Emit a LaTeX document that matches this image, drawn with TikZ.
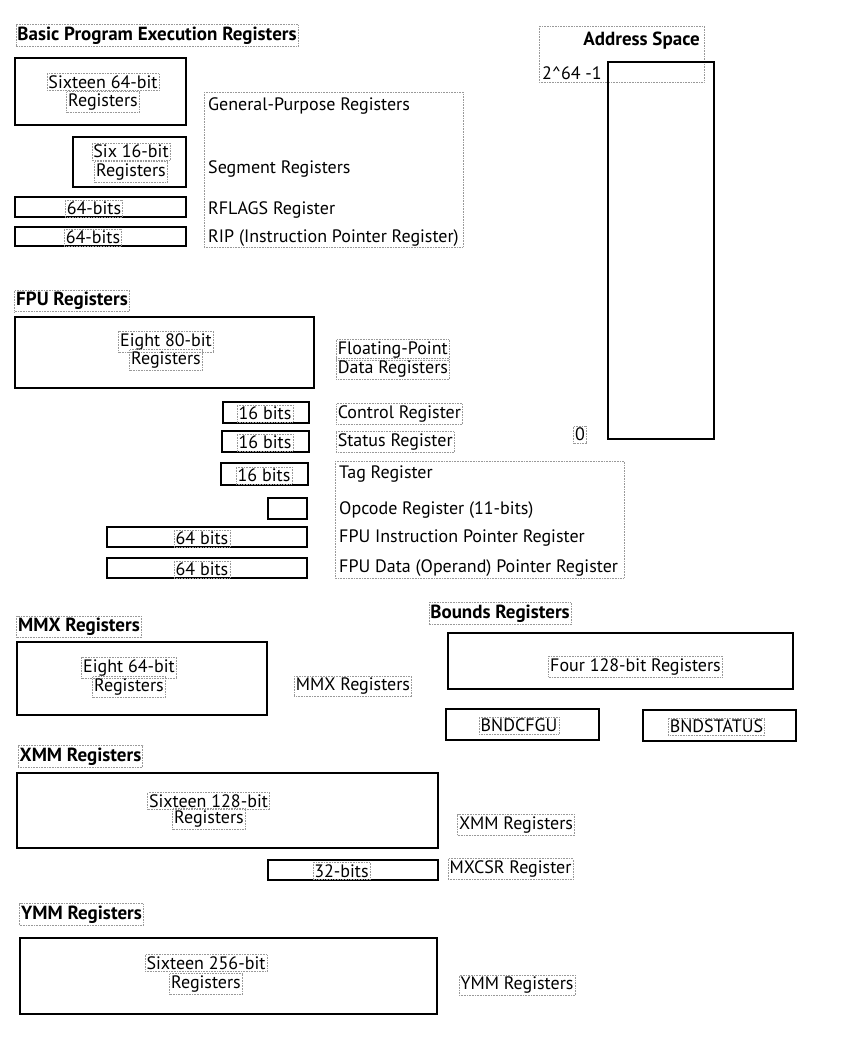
\documentclass[tikz,border=0pt]{standalone}
\usepackage{fontspec}
\setmainfont{PT Sans}
\begin{document}
\begin{tikzpicture}[x=1pt,y=-1pt,
  reg/.style={draw=black,line width=1.2pt},
  lbl/.style={draw=gray!80,densely dotted,line width=0.6pt,inner xsep=1.5pt,inner ysep=2pt,yshift=-1.5pt,font=\fontsize{18}{20}\selectfont},
  ttl/.style={lbl,font=\fontsize{19}{21}\selectfont\bfseries},
  txt/.style={inner sep=0pt,anchor=west,yshift=-1.5pt,font=\fontsize{18}{20}\selectfont},
  grp/.style={draw=gray!80,densely dotted,line width=0.6pt}]
\useasboundingbox (0,0) rectangle (842,1057);

% titles
\node[ttl] (t1) at (157,34) {Basic Program Execution Registers};
\node[ttl] (t2) at (72,299.5) {FPU Registers};
\node[ttl] (t3) at (79,625.5) {MMX Registers};
\node[ttl] (t4) at (500,612) {Bounds Registers};
\node[ttl] (t5) at (80.5,755) {XMM Registers};
\node[ttl] (t6) at (81.5,913) {YMM Registers};

% address space
\draw[grp] (539,26) rectangle (704,82);
\draw[reg] (608,62) rectangle (714,439);
\node[txt,anchor=east,font=\fontsize{19}{21}\selectfont\bfseries] (as) at (700,39) {Address Space};
\node[txt] (amax) at (542,72) {2\textasciicircum 64 -1};
\node[lbl] (azero) at (580,433) {0};

% basic program execution registers
\draw[reg] (15,58) rectangle (186,125);
\node[lbl] (gp1) at (103,80.5) {Sixteen 64-bit};
\node[lbl] (gp2) at (103,100.5) {Registers};
\draw[reg] (73,137) rectangle (186,187);
\node[lbl] (sg1) at (131,150) {Six 16-bit};
\node[lbl] (sg2) at (131,170.5) {Registers};
\draw[reg] (15,197) rectangle (186,217);
\node[lbl] (rf) at (94,207) {64-bits};
\draw[reg] (15,227) rectangle (186,246);
\node[lbl] (rip) at (93,236) {64-bits};
\draw[grp] (204,92) rectangle (463,247);
\node[txt] (gpn) at (208,104) {General-Purpose Registers};
\node[txt] (sgn) at (208,167) {Segment Registers};
\node[txt] (rfn) at (208,208) {RFLAGS Register};
\node[txt] (ripn) at (208,237) {RIP (Instruction Pointer Register)};

% FPU
\draw[reg] (15,317) rectangle (314,388);
\node[lbl] (fp1) at (166,340) {Eight 80-bit};
\node[lbl] (fp2) at (166,358.5) {Registers};
\node[lbl,anchor=west] (fpn1) at (336,348.5) {Floating-Point};
\node[lbl,anchor=west] (fpn2) at (336,367.5) {Data Registers};
\draw[reg] (223,402) rectangle (309,423);
\node[lbl] (cw) at (265,412) {16 bits};
\node[lbl,anchor=west] (cwn) at (336,412.5) {Control Register};
\draw[reg] (222,431) rectangle (309,452);
\node[lbl] (sw) at (265,441) {16 bits};
\node[lbl,anchor=west] (swn) at (336,440.5) {Status Register};
\draw[reg] (221,463) rectangle (308,485);
\node[lbl] (tw) at (264,474) {16 bits};
\draw[reg] (268,498) rectangle (307,519);
\draw[reg] (107,527) rectangle (307,547);
\node[lbl] (fip) at (202,537) {64 bits};
\draw[reg] (107,558) rectangle (307,578);
\node[lbl] (fdp) at (202,568) {64 bits};
\draw[grp] (335,461) rectangle (624,578);
\node[txt] (twn) at (339,473) {Tag Register};
\node[txt] (opn) at (339,509) {Opcode Register (11-bits)};
\node[txt] (fipn) at (339,537) {FPU Instruction Pointer Register};
\node[txt] (fdpn) at (339,567) {FPU Data (Operand) Pointer Register};

% MMX
\draw[reg] (17,642) rectangle (267,715);
\node[lbl] (mm1) at (129,666) {Eight 64-bit};
\node[lbl] (mm2) at (129,685.5) {Registers};
\node[lbl] (mmn) at (353,685) {MMX Registers};

% Bounds
\draw[reg] (448,633) rectangle (793,689);
\node[lbl] (bnd) at (635.5,665) {Four 128-bit Registers};
\draw[reg] (446,709) rectangle (599,740);
\node[lbl] (bcfg) at (519,724) {BNDCFGU};
\draw[reg] (643,710) rectangle (796,741);
\node[lbl] (bst) at (716.5,725) {BNDSTATUS};

% XMM
\draw[reg] (17,773) rectangle (438,848);
\node[lbl] (x1) at (208.5,799.5) {Sixteen 128-bit};
\node[lbl] (x2) at (209,817.5) {Registers};
\node[lbl] (xn) at (516,823.5) {XMM Registers};
\draw[reg] (268,860) rectangle (438,880);
\node[lbl] (mx) at (341.5,869.5) {32-bits};
\node[lbl] (mxn) at (510.5,867.5) {MXCSR Register};

% YMM
\draw[reg] (20,938) rectangle (437,1014);
\node[lbl] (y1) at (206,961.5) {Sixteen 256-bit};
\node[lbl] (y2) at (206,982.5) {Registers};
\node[lbl] (yn) at (517,984) {YMM Registers};
\end{tikzpicture}
\end{document}
